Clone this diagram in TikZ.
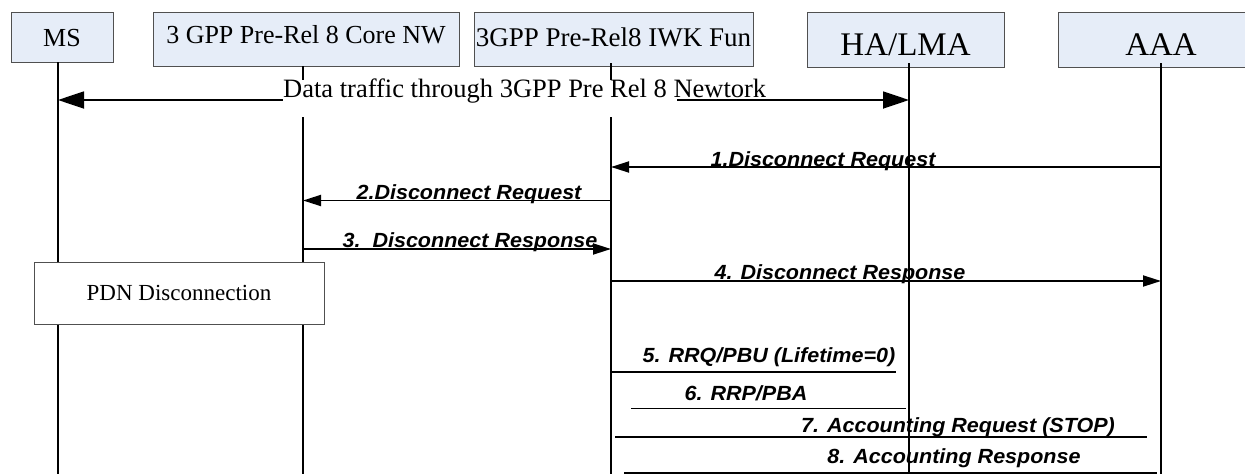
\documentclass[tikz,border=0pt]{standalone}
\usepackage{fontspec}
\setmainfont{Liberation Serif}
\newfontfamily\msgfont[FakeStretch=1.05]{Liberation Sans}
\usetikzlibrary{arrows.meta}
\definecolor{boxfill}{RGB}{230,237,248}
\definecolor{boxline}{RGB}{80,80,80}
\tikzset{
  entity/.style={draw=boxline, line width=1pt, fill=boxfill, inner sep=0pt, outer sep=0pt,
    anchor=north west, align=center},
  lifeline/.style={line width=1.8pt, black},
  msgline/.style={line width=1.8pt, black},
  msgarrow/.style={msgline, -{Triangle[length=18pt,width=11pt]}},
  bigarrow/.style={line width=1.8pt, {Triangle[length=26pt,width=17pt]}-{Triangle[length=26pt,width=17pt]}},
  msglabel/.style={font=\msgfont\bfseries\itshape\fontsize{20.5}{24}\selectfont, anchor=base, inner sep=0pt},
}
\begin{document}
\begin{tikzpicture}[x=1pt,y=-1pt]
\useasboundingbox (0,0) rectangle (1245,474);
% entities
\node[entity, minimum width=102pt, minimum height=50pt, text height=20pt, text depth=0.6pt,
  font=\fontsize{26}{30}\selectfont] (ms) at (11,12) {MS};
\node[entity, minimum width=306pt, minimum height=54pt, text height=20pt, text depth=12pt,
  font=\fontsize{26}{30}\selectfont] (core) at (153,12) {3 GPP Pre-Rel 8 Core NW};
\node[entity, minimum width=279pt, minimum height=54pt, text height=20pt, text depth=6pt,
  font=\fontsize{27}{30}\selectfont] (iwk) at (474,12) {3GPP Pre-Rel8 IWK Fun};
\node[entity, minimum width=197pt, minimum height=55pt, text height=32pt, text depth=1pt,
  font=\fontsize{33}{36}\selectfont] (ha) at (807,12) {HA/LMA};
\node[entity, minimum width=206pt, minimum height=55pt, text height=32pt, text depth=1pt,
  font=\fontsize{33}{36}\selectfont] (aaa) at (1058,12) {AAA};
% lifeline ends
\coordinate (msT) at (58,62);   \coordinate (msB) at (58,474);
\coordinate (coreT) at (303,66); \coordinate (coreB) at (303,474);
\coordinate (iwkT) at (611,63); \coordinate (iwkB) at (611,474);
\coordinate (haT) at (909,63);  \coordinate (haB) at (909,474);
\coordinate (aaaT) at (1161,63); \coordinate (aaaB) at (1161,474);
\draw[lifeline] (msT) -- (msB);
\draw[lifeline] (coreT) -- (coreB);
\draw[lifeline] (iwkT) -- (iwkB);
\draw[lifeline] (haT) -- (haB);
\draw[lifeline] (aaaT) -- (aaaB);
% data traffic
\coordinate (dMS) at (58,100); \coordinate (dHA) at (909,100);
\draw[bigarrow] (dMS) -- (dHA);
\fill[white] (283,80) rectangle (677,117);
\node[anchor=base west, inner sep=0pt, font=\fontsize{26.5}{30}\selectfont] (data) at (283,97)
  {Data traffic through 3GPP Pre Rel 8 Newtork};
% messages with arrows
\coordinate (m1a) at (1161,167);  \coordinate (m1b) at (611,167);
\coordinate (m2a) at (611,200.5); \coordinate (m2b) at (303,200.5);
\coordinate (m3a) at (303,249);   \coordinate (m3b) at (611,249);
\coordinate (m4a) at (611,281);   \coordinate (m4b) at (1161,281);
\draw[msgarrow] (m1a) -- (m1b);
\draw[msgarrow] (m2a) -- (m2b);
\draw[msgarrow] (m3a) -- (m3b);
\draw[msgarrow] (m4a) -- (m4b);
\node[msglabel] (l1) at (823,166) {1.Disconnect Request};
\node[msglabel] (l2) at (469,199.5) {2.Disconnect Request};
\node[msglabel] (l3) at (470,247.5) {3.~~Disconnect Response};
\node[msglabel] (l4) at (840,279.5) {4. Disconnect Response};
% plain lines
\coordinate (m5a) at (612,372);   \coordinate (m5b) at (896,372);
\coordinate (m6a) at (631,408.5); \coordinate (m6b) at (906,408.5);
\coordinate (m7a) at (615,437);   \coordinate (m7b) at (1147,437);
\coordinate (m8a) at (624,473);   \coordinate (m8b) at (1157,473);
\draw[msgline] (m5a) -- (m5b);
\draw[msgline] (m6a) -- (m6b);
\draw[msgline] (m7a) -- (m7b);
\draw[msgline] (m8a) -- (m8b);
\node[msglabel] (l5) at (769,362) {5. RRQ/PBU (Lifetime=0)};
\node[msglabel] (l6) at (746,400) {6. RRP/PBA};
\node[msglabel] (l7) at (958,432) {7. Accounting Request (STOP)};
\node[msglabel] (l8) at (954,463) {8. Accounting Response};
% PDN box
\node[draw=boxline, line width=1pt, fill=white, inner sep=0pt, outer sep=0pt, anchor=north west,
  minimum width=290pt, minimum height=62pt, text height=16pt, text depth=2pt,
  font=\fontsize{23}{26}\selectfont] (pdn) at (34,262) {PDN Disconnection};
\end{tikzpicture}
\end{document}
